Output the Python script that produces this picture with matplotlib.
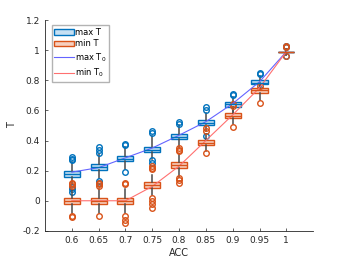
import matplotlib
matplotlib.use('Agg')
import matplotlib.pyplot as plt
from matplotlib.patches import Patch
from matplotlib.lines import Line2D
from matplotlib.ticker import FormatStrFormatter

acc = [0.6, 0.65, 0.7, 0.75, 0.8, 0.85, 0.9, 0.95, 1.0]
acc_labels = ['0.6', '0.65', '0.7', '0.75', '0.8', '0.85', '0.9', '0.95', '1']

# max T boxes
max_med = [0.18, 0.225, 0.28, 0.34, 0.425, 0.515, 0.64, 0.785, 0.99]
max_q1 = [0.16, 0.205, 0.265, 0.325, 0.41, 0.50, 0.625, 0.775, 0.99]
max_q3 = [0.20, 0.245, 0.30, 0.36, 0.445, 0.535, 0.655, 0.80, 0.99]
max_lo = [0.11, 0.15, 0.21, 0.28, 0.36, 0.46, 0.59, 0.75, 0.97]
max_hi = [0.26, 0.31, 0.36, 0.43, 0.50, 0.58, 0.69, 0.83, 1.01]
max_fliers = [[0.27, 0.28, 0.29, 0.06, 0.08, 0.09],
              [0.32, 0.34, 0.36, 0.12, 0.13],
              [0.37, 0.38, 0.19],
              [0.45, 0.46, 0.25, 0.27],
              [0.51, 0.52],
              [0.60, 0.62, 0.43],
              [0.70, 0.71],
              [0.84, 0.85, 0.74],
              [1.02, 1.03, 0.96]]

# min T boxes
min_med = [0.0, 0.0, 0.0, 0.105, 0.24, 0.385, 0.565, 0.735, 0.99]
min_q1 = [-0.02, -0.02, -0.02, 0.085, 0.22, 0.37, 0.55, 0.715, 0.99]
min_q3 = [0.02, 0.02, 0.02, 0.125, 0.26, 0.405, 0.58, 0.75, 0.99]
min_lo = [-0.08, -0.08, -0.08, 0.04, 0.16, 0.33, 0.51, 0.67, 0.97]
min_hi = [0.08, 0.08, 0.08, 0.17, 0.31, 0.44, 0.62, 0.78, 1.01]
min_fliers = [[0.10, 0.11, 0.12, -0.10, -0.11],
              [0.10, 0.11, 0.12, -0.10],
              [0.11, 0.12, -0.10, -0.13, -0.15],
              [0.21, 0.22, 0.23, 0.02, 0.0, -0.02, -0.05],
              [0.33, 0.34, 0.35, 0.12, 0.14, 0.15],
              [0.46, 0.48, 0.32],
              [0.63, 0.64, 0.49],
              [0.76, 0.65],
              [1.02, 1.03, 0.96]]

# T0 lines
max_T0 = [0.19, 0.22, 0.285, 0.35, 0.435, 0.525, 0.645, 0.79, 0.99]
min_T0 = [0.0, 0.0, 0.0, 0.095, 0.23, 0.40, 0.57, 0.75, 0.99]

blue = '#0072BD'
red = '#D95319'
blue_face = '#c6e0f3'
red_face = '#f6d0c0'
line_blue = '#6464ff'
line_red = '#ff7070'

def stats(med, q1, q3, lo, hi, fl):
    return [dict(med=m, q1=a, q3=b, whislo=l, whishi=h, fliers=f)
            for m, a, b, l, h, f in zip(med, q1, q3, lo, hi, fl)]

fig = plt.figure(figsize=(3.46, 2.6), dpi=100)
ax = fig.add_axes([0.13, 0.112, 0.775, 0.811])

for st, ec, fc in [(stats(max_med, max_q1, max_q3, max_lo, max_hi, max_fliers), blue, blue_face),
                   (stats(min_med, min_q1, min_q3, min_lo, min_hi, min_fliers), red, red_face)]:
    ax.bxp(st, positions=acc, widths=0.03, patch_artist=True, manage_ticks=False,
           boxprops=dict(facecolor=fc, edgecolor=ec, linewidth=1.0),
           medianprops=dict(color=ec, linewidth=1.0),
           whiskerprops=dict(color='#4a4a4a', linewidth=1.1),
           capprops=dict(linewidth=0),
           flierprops=dict(marker='o', markerfacecolor='none', markeredgecolor=ec,
                           markersize=4, markeredgewidth=1.0))

ax.plot(acc, max_T0, color=line_blue, linewidth=0.8)
ax.plot(acc, min_T0, color=line_red, linewidth=0.8)

ax.set_xlim(0.55, 1.05)
ax.set_ylim(-0.2, 1.2)
ax.set_xticks(acc)
ax.set_xticklabels(acc_labels)
ax.set_yticks([-0.2, 0, 0.2, 0.4, 0.6, 0.8, 1.0, 1.2])
ax.yaxis.set_major_formatter(FormatStrFormatter('%g'))
ax.tick_params(direction='in', labelsize=6.5, colors='#262626', length=2.5, width=0.5)
for s in ['top', 'right']:
    ax.spines[s].set_visible(False)
for s in ['left', 'bottom']:
    ax.spines[s].set_color('#262626')
    ax.spines[s].set_linewidth(0.6)
ax.set_xlabel('ACC', fontsize=7, color='#262626', labelpad=2)
ax.set_ylabel('T', fontsize=7, color='#262626', labelpad=4)

handles = [Patch(facecolor=blue_face, edgecolor=blue, label='max T'),
           Patch(facecolor=red_face, edgecolor=red, label='min T'),
           Line2D([], [], color=line_blue, linewidth=0.8, label='max T$_0$'),
           Line2D([], [], color=line_red, linewidth=0.8, label='min T$_0$')]
ax.legend(handles=handles, loc='upper left', bbox_to_anchor=(0.026, 0.976),
          fontsize=6, frameon=True, fancybox=False, edgecolor='#a0a0a0',
          handlelength=2.3, handletextpad=0.2, borderpad=0.3, labelspacing=0.35,
          borderaxespad=0)

fig.savefig('out.png', dpi=100)
